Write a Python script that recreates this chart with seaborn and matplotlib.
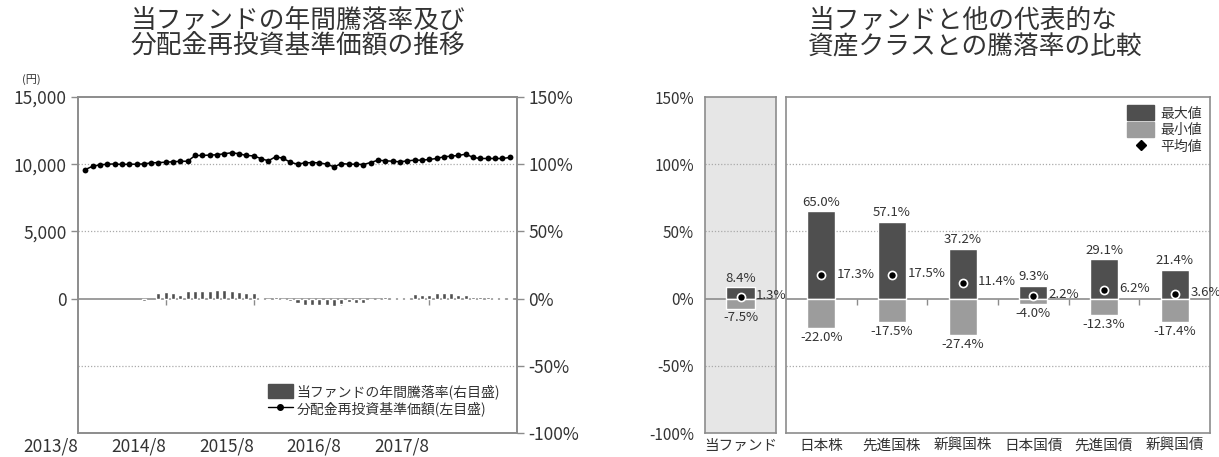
import numpy as np
import pandas as pd
import matplotlib.pyplot as plt
import seaborn as sns
from matplotlib.lines import Line2D
from matplotlib.patches import Patch

sns.set_theme(style="white")
plt.rcParams['font.family'] = ['Noto Sans CJK JP', 'DejaVu Sans']

# 左: 分配金再投資基準価額（円）, 2013/9〜2018/7 の月次
kijun = [9600, 9850, 9950, 10000, 10020, 9980, 10000, 10000, 10020, 10100,
         10120, 10150, 10180, 10220, 10220, 10650, 10650, 10680, 10700, 10780,
         10850, 10780, 10650, 10620, 10420, 10250, 10550, 10450, 10150, 10000,
         10100, 10120, 10100, 10000, 9800, 10050, 10000, 10000, 9975, 10125,
         10300, 10250, 10225, 10175, 10250, 10300, 10300, 10350, 10425, 10550,
         10600, 10650, 10750, 10500, 10425, 10425, 10425, 10425, 10500]
# 年間騰落率（%）
nenkan = [np.nan] * 8 + [-1.5, np.nan,
          4.5, 5.0, 4.5, 3.0, 5.5, 5.5, 5.5, 6.0, 6.5, 6.5,
          6.0, 5.0, 4.5, 4.0, 0.5, -1.0, 1.0, -1.0, -2.0, -3.5,
          -4.5, -4.5, -4.5, -5.0, -5.5, -4.0, -2.5, -3.5, -3.5, -1.0,
          0.0, 1.0, 0.2, 0.2, 0.5, 3.5, 2.5, 3.0, 4.0, 4.0,
          4.0, 3.0, 3.0, 1.0, 1.0, 1.0, 0.5, 0.5, 0.3]
tsuki = np.arange(len(kijun))
nen_pos = [-1, 11, 23, 35, 47]
nen_labels = ['2013/8', '2014/8', '2015/8', '2016/8', '2017/8']

# 右: 騰落率の比較
shisan = ['日本株', '先進国株', '新興国株', '日本国債', '先進国債', '新興国債']
saidai = [65.0, 57.1, 37.2, 9.3, 29.1, 21.4]
saisho = [-22.0, -17.5, -27.4, -4.0, -12.3, -17.4]
heikin = [17.3, 17.5, 11.4, 2.2, 6.2, 3.6]
fund_name = ['当ファンド']
fund_max = [8.4]
fund_min = [-7.5]
fund_avg = [1.3]

dark = '#4f4f4f'
light = '#9c9c9c'
frame = '#8c8c8c'
txt = '#333333'

fig = plt.figure(figsize=(12.19, 4.57), dpi=100)
W, H = 1219, 457


def box(x0, x1, y0=97, y1=433):
    return [x0 / W, 1 - y1 / H, (x1 - x0) / W, (y1 - y0) / H]


# ---- 左のグラフ ----
ax = fig.add_axes(box(78, 517))
ax2 = ax.twinx()
df = pd.DataFrame({'m': tsuki, 'v': kijun, 'r': nenkan})
bars = df.dropna(subset=['r'])
ax2.bar(bars['m'], bars['r'], width=0.55, color=dark, zorder=3)
sns.lineplot(data=df, x='m', y='v', ax=ax, color='black', lw=1.1,
             marker='o', markersize=4.2, markeredgewidth=0, zorder=4)
ax.set_ylim(-10000, 15000)
ax2.set_ylim(-100, 150)
ax.set_xlim(-1, 59)
ax.set_yticks([0, 5000, 10000, 15000])
ax.set_yticklabels(['0', '5,000', '10,000', '15,000'])
ax2.set_yticks([-100, -50, 0, 50, 100, 150])
ax2.set_yticklabels(['-100%', '-50%', '0%', '50%', '100%', '150%'])
ax.set_xticks(nen_pos)
ax.set_xticklabels(nen_labels, ha='right')
ax.set_xlabel('')
ax.set_ylabel('')
for g in [-50, 50, 100]:
    ax2.axhline(g, color='#aaaaaa', ls=(0, (1, 1.5)), lw=0.9, zorder=1)
ax2.axhline(0, color=frame, lw=1.2, zorder=2)
ax2.vlines(nen_pos[1:], -5, 0, color=frame, lw=1, zorder=2)
for a in (ax, ax2):
    for s in a.spines.values():
        s.set_color(frame)
        s.set_linewidth(1.2)
    a.tick_params(length=5, width=1, color=frame, labelsize=12.5, labelcolor=txt, pad=3)
ax.tick_params(axis='x', length=0, pad=3)
ax.set_zorder(ax2.get_zorder() + 1)
ax.patch.set_visible(False)
fig.text(22 / W, 1 - 80 / H, '(円)', fontsize=8, color=txt, va='center')

handles = [Patch(color=dark), Line2D([], [], color='black', lw=1, marker='o', markersize=4)]
ax.legend(handles, ['当ファンドの年間騰落率(右目盛)', '分配金再投資基準価額(左目盛)'],
          loc='lower right', frameon=False, fontsize=10, labelcolor=txt,
          handlelength=1.8, handleheight=1.2, handletextpad=0.3,
          borderaxespad=0.8, labelspacing=0.2)

fig.text(130 / W, 1 - 8 / H, '当ファンドの年間騰落率及び\n分配金再投資基準価額の推移',
         fontsize=18.5, color=txt, va='top', ha='left', linespacing=1.0)

# ---- 右のグラフ ----
axf = fig.add_axes(box(705, 776))
axa = fig.add_axes(box(786, 1210))
axf.set_facecolor('#e6e6e6')

sns.barplot(x=fund_name, y=fund_max, ax=axf, color=dark, saturation=1, width=0.4, zorder=3)
sns.barplot(x=fund_name, y=fund_min, ax=axf, color=light, saturation=1, width=0.4, zorder=3)
sns.barplot(x=shisan, y=saidai, ax=axa, color=dark, saturation=1, width=0.4, zorder=3)
sns.barplot(x=shisan, y=saisho, ax=axa, color=light, saturation=1, width=0.4, zorder=3)
sns.scatterplot(x=fund_name, y=fund_avg, ax=axf, color='black', marker='o', s=34,
                edgecolor='white', linewidth=1.2, zorder=5)
sns.scatterplot(x=shisan, y=heikin, ax=axa, color='black', marker='o', s=34,
                edgecolor='white', linewidth=1.2, zorder=5)

for a, mx, mn, av in [(axf, fund_max, fund_min, fund_avg), (axa, saidai, saisho, heikin)]:
    a.set_ylim(-100, 150)
    a.set_xlim(-0.5, len(mx) - 0.5)
    for g in [-50, 50, 100]:
        a.axhline(g, color='#aaaaaa', ls=(0, (1, 1.5)), lw=0.9, zorder=1)
    a.axhline(0, color=frame, lw=1.2, zorder=2)
    for i in range(len(mx)):
        a.text(i, mx[i] + 2, f'{mx[i]:.1f}%', ha='center', va='bottom', fontsize=9.5, color=txt, zorder=6)
        a.text(i, mn[i] - 2, f'{mn[i]:.1f}%', ha='center', va='top', fontsize=9.5, color=txt, zorder=6)
        a.text(i + 0.22, av[i] + 1, f'{av[i]:.1f}%', ha='left', va='center', fontsize=9.5, color=txt, zorder=6)
    for s in a.spines.values():
        s.set_color(frame)
        s.set_linewidth(1.2)
    a.set_xlabel('')
    a.set_ylabel('')
    a.tick_params(axis='x', length=0, labelsize=10.5, labelcolor=txt, pad=4)

axa.vlines(np.arange(0.5, len(shisan) - 0.5), -5, 0, color=frame, lw=1, zorder=2)
axa.set_yticks([])
axf.set_yticks([-100, -50, 0, 50, 100, 150])
axf.set_yticklabels(['-100%', '-50%', '0%', '50%', '100%', '150%'])
axf.tick_params(axis='y', length=5, width=1, color=frame, labelsize=11, labelcolor=txt, pad=3)

h2 = [Patch(color=dark), Patch(color=light),
      Line2D([], [], color='black', marker='D', ls='none', markersize=5)]
axa.legend(h2, ['最大値', '最小値', '平均値'], loc='upper right', frameon=False,
           fontsize=10, labelcolor=txt, handlelength=2.0, handleheight=1.3,
           handletextpad=0.4, borderaxespad=0.2, labelspacing=0.1)

fig.text(808 / W, 1 - 8 / H, '当ファンドと他の代表的な\n資産クラスとの騰落率の比較',
         fontsize=18.5, color=txt, va='top', ha='left', linespacing=1.0)

fig.savefig('out.png', dpi=100)
